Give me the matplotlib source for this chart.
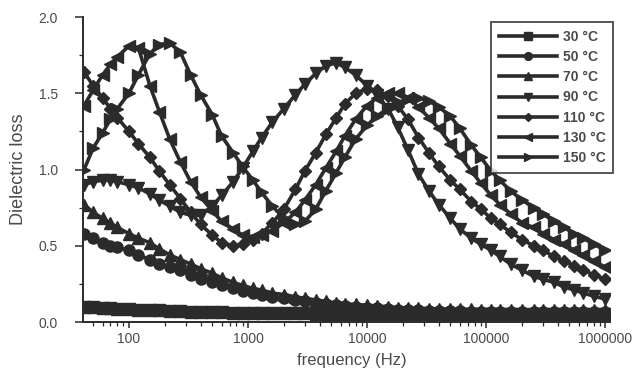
import matplotlib
matplotlib.use("Agg")
import matplotlib.pyplot as plt

plt.rcParams.update({"font.family": ["Liberation Sans", "DejaVu Sans"]})

INK = "#2b2b2b"
TXT = "#4a4a4a"

FREQ = [42, 50, 60, 70, 80,
        100, 120, 150, 180, 220, 270, 330, 400, 500, 600, 750, 900,
        1100, 1300, 1600, 2000, 2500, 3000, 3700, 4500, 5500, 6500, 8000,
        10000, 12000, 15000, 18000, 22000, 27000, 33000, 40000, 50000, 60000, 75000, 90000,
        110000, 130000, 160000, 200000, 250000, 300000, 370000, 450000, 550000, 650000, 800000, 1000000]

L30 = [0.100, 0.096, 0.093, 0.090, 0.088,
       0.085, 0.082, 0.079, 0.076, 0.073, 0.071, 0.069, 0.067, 0.065, 0.063, 0.062, 0.061,
       0.060, 0.059, 0.058, 0.057, 0.056, 0.056, 0.055, 0.055, 0.054, 0.054, 0.054,
       0.053, 0.053, 0.053, 0.052, 0.052, 0.052, 0.052, 0.052, 0.051, 0.051, 0.051, 0.051,
       0.051, 0.051, 0.050, 0.050, 0.050, 0.050, 0.050, 0.050, 0.050, 0.050, 0.050, 0.050]
L50 = [0.58, 0.55, 0.52, 0.50, 0.49,
       0.47, 0.44, 0.41, 0.38, 0.36, 0.34, 0.31, 0.28, 0.26, 0.24, 0.22, 0.205,
       0.19, 0.18, 0.165, 0.155, 0.145, 0.135, 0.125, 0.12, 0.11, 0.105, 0.10,
       0.095, 0.09, 0.085, 0.08, 0.078, 0.076, 0.074, 0.072, 0.071, 0.070, 0.069, 0.068,
       0.068, 0.067, 0.067, 0.066, 0.066, 0.066, 0.065, 0.065, 0.065, 0.065, 0.064, 0.064]
L70 = [0.77, 0.72, 0.68, 0.65, 0.62,
       0.58, 0.55, 0.52, 0.48, 0.44, 0.41, 0.38, 0.35, 0.32, 0.29, 0.26, 0.24,
       0.22, 0.21, 0.19, 0.18, 0.165, 0.155, 0.145, 0.135, 0.125, 0.12, 0.115,
       0.11, 0.105, 0.10, 0.095, 0.092, 0.09, 0.088, 0.086, 0.085, 0.084, 0.083, 0.082,
       0.082, 0.081, 0.081, 0.080, 0.080, 0.080, 0.079, 0.079, 0.079, 0.078, 0.078, 0.078]
L90 = [0.90, 0.92, 0.93, 0.93, 0.92,
       0.90, 0.88, 0.84, 0.80, 0.76, 0.72, 0.70, 0.70, 0.76, 0.83, 0.92, 1.01,
       1.12, 1.21, 1.31, 1.40, 1.49, 1.56, 1.63, 1.68, 1.70, 1.67, 1.62,
       1.55, 1.49, 1.40, 1.28, 1.13, 0.97, 0.86, 0.77, 0.68, 0.61, 0.55, 0.51,
       0.47, 0.43, 0.38, 0.34, 0.30, 0.28, 0.26, 0.23, 0.21, 0.19, 0.17, 0.15]
L110 = [1.64, 1.55, 1.47, 1.40, 1.34,
        1.25, 1.17, 1.08, 0.99, 0.90, 0.81, 0.72, 0.64, 0.57, 0.52, 0.50, 0.51,
        0.54, 0.58, 0.65, 0.74, 0.87, 0.99, 1.11, 1.23, 1.34, 1.43, 1.50,
        1.53, 1.52, 1.48, 1.42, 1.33, 1.21, 1.11, 1.02, 0.93, 0.87, 0.79, 0.74,
        0.68, 0.64, 0.59, 0.54, 0.50, 0.47, 0.43, 0.40, 0.37, 0.34, 0.31, 0.28]
L130 = [1.42, 1.52, 1.62, 1.69, 1.74,
        1.81, 1.80, 1.55, 1.38, 1.20, 1.05, 0.92, 0.82, 0.73, 0.66, 0.61, 0.57,
        0.56, 0.57, 0.60, 0.65, 0.72, 0.80, 0.90, 1.01, 1.12, 1.22, 1.33,
        1.42, 1.47, 1.50, 1.50, 1.47, 1.41, 1.34, 1.27, 1.17, 1.09, 0.99, 0.91,
        0.83, 0.77, 0.71, 0.65, 0.62, 0.58, 0.54, 0.51, 0.47, 0.44, 0.40, 0.36]
L150 = [1.00, 1.14, 1.24, 1.33, 1.40,
        1.50, 1.62, 1.76, 1.82, 1.83, 1.77, 1.62, 1.49, 1.36, 1.22, 1.11, 1.02,
        0.93, 0.85, 0.76, 0.68, 0.64, 0.66, 0.74, 0.86, 0.98, 1.08, 1.20,
        1.29, 1.35, 1.40, 1.44, 1.46, 1.47, 1.45, 1.41, 1.35, 1.27, 1.16, 1.08,
        0.99, 0.93, 0.86, 0.80, 0.75, 0.71, 0.66, 0.62, 0.58, 0.55, 0.51, 0.47]

LABELS = ["30 °C", "50 °C", "70 °C", "90 °C", "110 °C", "130 °C", "150 °C"]
SERIES = [L30, L50, L70, L90, L110, L130, L150]
MARKERS = ["s", "o", "^", "v", "D", "<", ">"]

XTICKS = [100, 1000, 10000, 100000, 1000000]
XTICKLABELS = ["100", "1000", "10000", "100000", "1000000"]
YTICKS = [0.0, 0.5, 1.0, 1.5, 2.0]

fig = plt.figure(figsize=(6.37, 3.71), dpi=100)
ax = fig.add_axes([0.130, 0.132, 0.828, 0.822])

for ys, lbl, mk in zip(SERIES, LABELS, MARKERS):
    ms = 6.5 if mk == "D" else 8
    ax.plot(FREQ, ys, "-", marker=mk, color=INK, mfc=INK, mec=INK, lw=2.6, ms=ms, label=lbl)

ax.set_xscale("log")
ax.set_xlim(41, 1.1e6)
ax.set_ylim(0, 2.0)
ax.set_xticks(XTICKS)
ax.set_xticklabels(XTICKLABELS)
ax.set_yticks(YTICKS)
ax.set_yticklabels([f"{v:.1f}" for v in YTICKS])
ax.set_yticks([0.25, 0.75, 1.25, 1.75], minor=True)

for side in ("top", "right"):
    ax.spines[side].set_visible(False)
for side in ("left", "bottom"):
    ax.spines[side].set_color(INK)
    ax.spines[side].set_linewidth(1.4)

ax.tick_params(axis="both", which="major", direction="out", length=6, width=1.1, color=INK,
               labelsize=10, labelcolor=TXT)
ax.tick_params(axis="x", which="major", length=4, pad=3)
ax.tick_params(axis="both", which="minor", direction="out", length=3, width=0.9, color=INK)
ax.tick_params(axis="y", which="major", pad=12)

ax.set_xlabel("frequency (Hz)", fontsize=12, color=TXT, va="center")
ax.xaxis.set_label_coords(0.51, -0.125)
ax.set_ylabel("Dielectric loss", fontsize=13, color=TXT, labelpad=8)

leg = ax.legend(loc="upper right", bbox_to_anchor=(613 / 637, 1 - 22 / 371),
                bbox_transform=fig.transFigure, borderaxespad=0, fontsize=10,
                frameon=True, fancybox=False, edgecolor=INK, handlelength=4.2,
                labelspacing=0.45, markerscale=0.7, borderpad=0.55, handletextpad=0.4)
leg.get_frame().set_linewidth(1.4)
for t in leg.get_texts():
    t.set_color(TXT)
    t.set_fontweight("bold")

fig.savefig("out.png", dpi=100, facecolor="white")
